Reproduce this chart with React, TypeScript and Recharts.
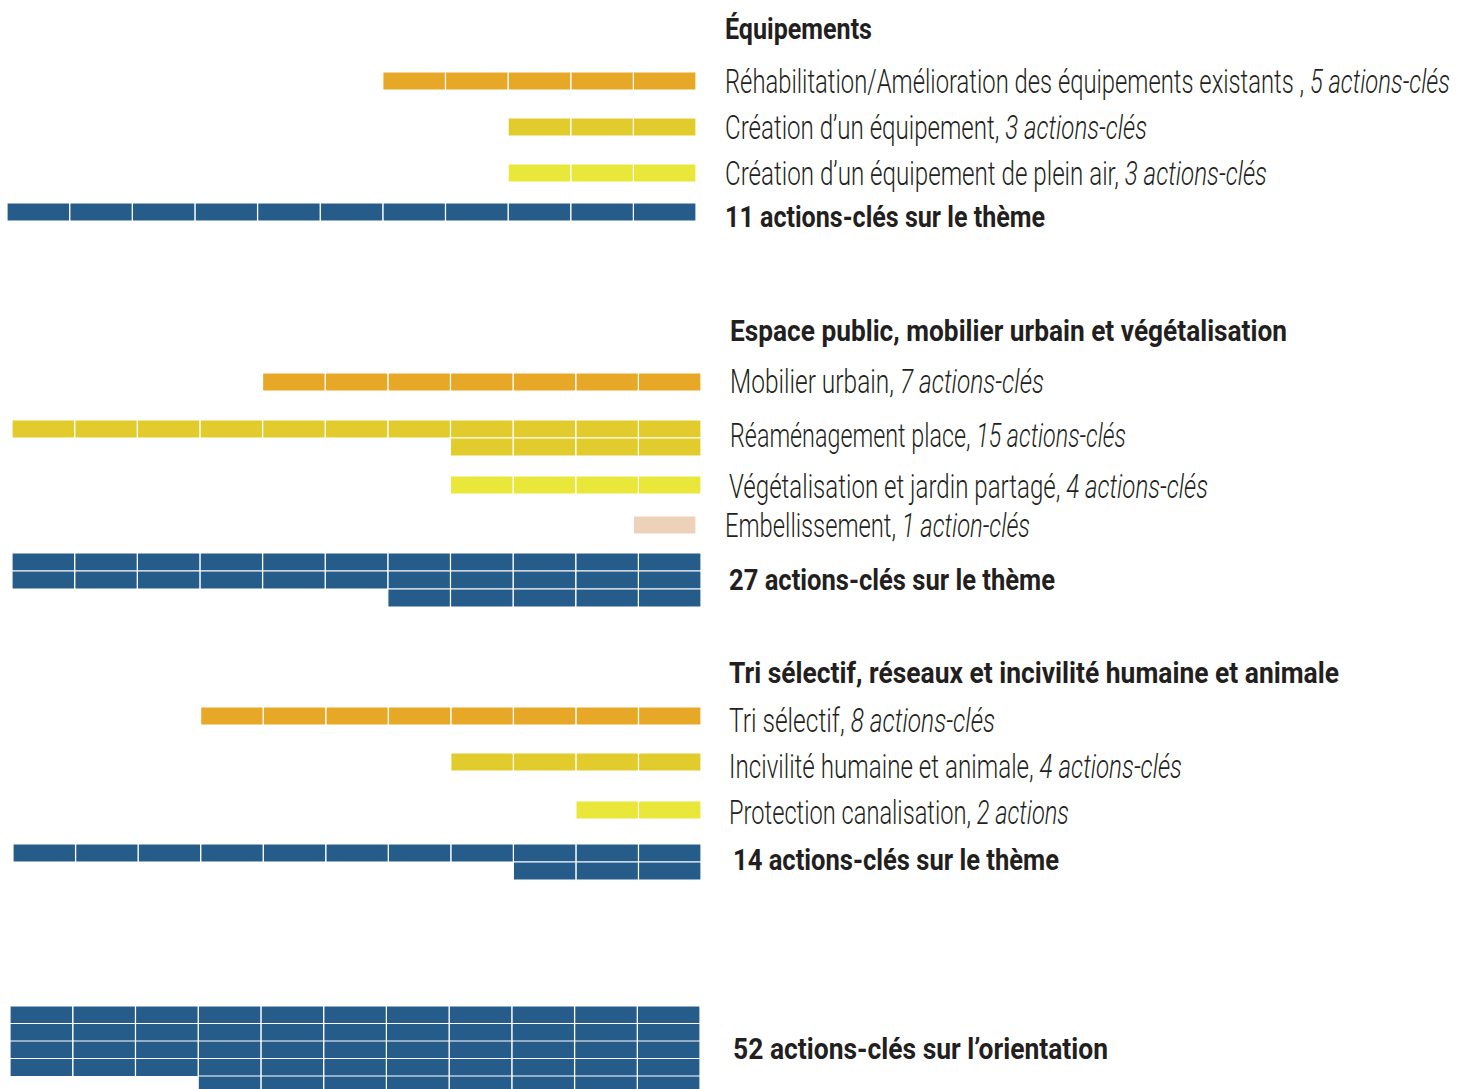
import React from 'react';
import { BarChart, Bar, XAxis, YAxis } from 'recharts';

// ---- data ----
const themeTitles = [
    'Équipements',
    'Espace public, mobilier urbain et végétalisation',
    'Tri sélectif, réseaux et incivilité humaine et animale',
];

const equipementsItems = [
    'Réhabilitation/Amélioration des équipements existants , ',
    'Création d’un équipement, ',
    'Création d’un équipement de plein air, ',
];
const equipementsCounts = [5, 3, 3];
const equipementsCountLabels = ['5 actions-clés', '3 actions-clés', '3 actions-clés'];

const espaceItems = [
    'Mobilier urbain, ',
    'Réaménagement place, ',
    'Végétalisation et jardin partagé, ',
    'Embellissement, ',
];
const espaceCounts = [7, 15, 4, 1];
const espaceCountLabels = ['7 actions-clés', '15 actions-clés', '4 actions-clés', '1 action-clés'];

const triItems = ['Tri sélectif, ', 'Incivilité humaine et animale, ', 'Protection canalisation, '];
const triCounts = [8, 4, 2];
const triCountLabels = ['8 actions-clés', '4 actions-clés', '2 actions'];

const themeTotals = [11, 27, 14];
const themeTotalLabels = [
    '11 actions-clés sur le thème',
    '27 actions-clés sur le thème',
    '14 actions-clés sur le thème',
];
const orientationTotal = 52;
const orientationLabel = '52 actions-clés sur l’orientation';

// ---- styles / layout ----
const PER_ROW = 11;
const itemColors = ['#E8A827', '#E2CB2C', '#E9E73A', '#EDD2B9'];
const totalColor = '#265C8A';
const textColor = '#231F20';
const fontStack = "Roboto, 'Liberation Sans', sans-serif";

const layouts = [
    {
        barLeft: 7, barWidth: 689, textX: 725,
        titleBase: 39, titleEnd: 872,
        rowTops: [73, 119, 165], rowBases: [93, 139, 185], rowEnds: [1450, 1147, 1267],
        rowLefts: [7, 7, 7], rowTextX: [725, 725, 725],
        totalTop: 204, totalBase: 227, totalEnd: 1045, totalX: 725,
    },
    {
        barLeft: 12, barWidth: 689, textX: 730,
        titleBase: 341, titleEnd: 1287,
        rowTops: [374, 421, 477, 517], rowBases: [393, 447, 498, 537], rowEnds: [1044, 1126, 1208, 1030],
        rowLefts: [12, 12, 12, 7], rowTextX: [730, 730, 729, 725],
        totalTop: 554, totalBase: 590, totalEnd: 1055, totalX: 729,
    },
    {
        barLeft: 13, barWidth: 688, textX: 729,
        titleBase: 683, titleEnd: 1339,
        rowTops: [708, 754, 802], rowBases: [732, 778, 824], rowEnds: [995, 1182, 1069],
        rowLefts: [13, 13, 13], rowTextX: [729, 729, 729],
        totalTop: 845, totalBase: 870, totalEnd: 1059, totalX: 733,
    },
];

const groups = [
    { items: equipementsItems, counts: equipementsCounts, countLabels: equipementsCountLabels },
    { items: espaceItems, counts: espaceCounts, countLabels: espaceCountLabels },
    { items: triItems, counts: triCounts, countLabels: triCountLabels },
];

// split a count into rows of 11 unit blocks, right aligned through a reversed axis
function toLines(count: number) {
    const rows: Record<string, number | string>[] = [];
    for (let start = 0, line = 0; start < count; start += PER_ROW, line++) {
        const n = Math.min(PER_ROW, count - start);
        const row: Record<string, number | string> = { line: String(line) };
        for (let i = 0; i < PER_ROW; i++) row[`u${i}`] = i < n ? 1 : 0;
        rows.push(row);
    }
    return rows;
}

interface UnitBarProps {
    count: number;
    color: string;
    left: number;
    top: number;
    width: number;
    pitch?: number;
}

function UnitBar({ count, color, left, top, width, pitch = 18 }: UnitBarProps) {
    const rows = toLines(count);
    return (
        <div style={{ position: 'absolute', left, top }}>
            <BarChart
                layout="vertical"
                width={width}
                height={rows.length * pitch}
                data={rows}
                margin={{ top: 0, right: 0, bottom: 0, left: 0 }}
                barCategoryGap={0}
            >
                <XAxis type="number" domain={[0, PER_ROW]} reversed hide />
                <YAxis type="category" dataKey="line" hide />
                {Array.from({ length: PER_ROW }, (_, i) => (
                    <Bar
                        key={i}
                        dataKey={`u${i}`}
                        stackId="units"
                        fill={color}
                        stroke="#fff"
                        strokeWidth={1.2}
                        isAnimationActive={false}
                    />
                ))}
            </BarChart>
        </div>
    );
}

export default function App() {
    return (
        <div style={{ position: 'absolute', left: 0, top: 0, width: 1470, height: 1089, overflow: 'hidden', background: '#fff' }}>
            {groups.map((g, gi) => {
                const L = layouts[gi];
                return (
                    <React.Fragment key={gi}>
                        {g.counts.map((c, ri) => (
                            <UnitBar
                                key={ri}
                                count={c}
                                color={itemColors[ri]}
                                left={L.rowLefts[ri]}
                                top={L.rowTops[ri] - 1}
                                width={L.barWidth}
                            />
                        ))}
                        <UnitBar
                            count={themeTotals[gi]}
                            color={totalColor}
                            left={L.barLeft}
                            top={L.totalTop - 1}
                            width={L.barWidth}
                        />
                    </React.Fragment>
                );
            })}
            <UnitBar count={orientationTotal} color={totalColor} left={10} top={1006} width={690} pitch={17.5} />

            <svg width={1470} height={1089} style={{ position: 'absolute', left: 0, top: 0 }}>
                {groups.map((g, gi) => {
                    const L = layouts[gi];
                    return (
                        <g key={gi} fill={textColor}>
                            <text
                                x={L.textX}
                                y={L.titleBase}
                                fontFamily={fontStack}
                                fontWeight={700}
                                fontSize={30}
                                textLength={L.titleEnd - L.textX}
                                lengthAdjust="spacingAndGlyphs"
                            >
                                {themeTitles[gi]}
                            </text>
                            {g.items.map((label, ri) => (
                                <text
                                    key={ri}
                                    x={L.rowTextX[ri]}
                                    y={L.rowBases[ri]}
                                    fontFamily={fontStack}
                                    fontWeight={300}
                                    fontSize={34}
                                    textLength={L.rowEnds[ri] - L.rowTextX[ri]}
                                    lengthAdjust="spacingAndGlyphs"
                                >
                                    <tspan>{label}</tspan>
                                    <tspan fontStyle="italic">{g.countLabels[ri]}</tspan>
                                </text>
                            ))}
                            <text
                                x={L.totalX}
                                y={L.totalBase}
                                fontFamily={fontStack}
                                fontWeight={700}
                                fontSize={30}
                                textLength={L.totalEnd - L.totalX}
                                lengthAdjust="spacingAndGlyphs"
                            >
                                {themeTotalLabels[gi]}
                            </text>
                        </g>
                    );
                })}
                <text
                    x={733}
                    y={1059}
                    fill={textColor}
                    fontFamily={fontStack}
                    fontWeight={700}
                    fontSize={30}
                    textLength={1108 - 733}
                    lengthAdjust="spacingAndGlyphs"
                >
                    {orientationLabel}
                </text>
            </svg>
        </div>
    );
}
